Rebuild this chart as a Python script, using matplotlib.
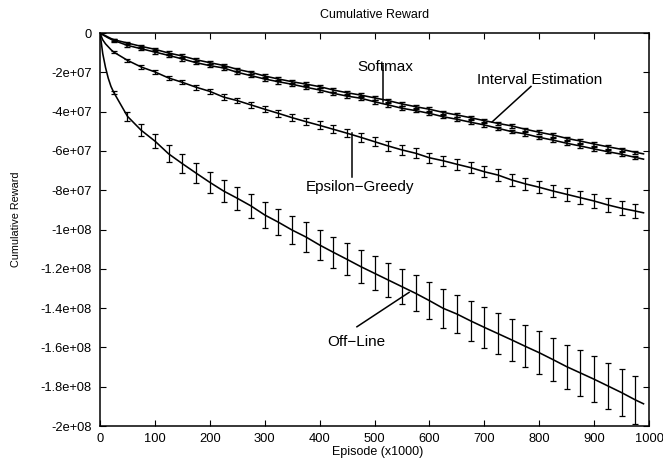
import matplotlib
matplotlib.use("Agg")
import matplotlib.pyplot as plt
import numpy as np

plt.rcParams['font.family'] = ['Liberation Sans', 'DejaVu Sans']

SCALE = 1e7  # values below are in units of 1e7

episodes = [0, 5, 10, 15, 20, 25, 50, 75, 100, 125, 150, 175, 200, 225, 250, 275, 300,
            325, 350, 375, 400, 425, 450, 475, 500, 525, 550, 575, 600, 625, 650,
            675, 700, 725, 750, 775, 800, 825, 850, 875, 900, 925, 950, 975, 990]

interval_estimation = [0, -0.07, -0.14, -0.21, -0.28, -0.34, -0.51, -0.68, -0.83, -1.02, -1.17,
                       -1.36, -1.51, -1.65, -1.85, -2.00, -2.19, -2.34, -2.48, -2.60, -2.73,
                       -2.90, -3.04, -3.16, -3.30, -3.44, -3.61, -3.75, -3.88, -4.04, -4.17,
                       -4.31, -4.46, -4.60, -4.73, -4.90, -5.05, -5.19, -5.36, -5.50, -5.65,
                       -5.79, -5.92, -6.07, -6.15]

softmax = [0, -0.09, -0.17, -0.25, -0.32, -0.38, -0.63, -0.80, -0.97, -1.14, -1.32,
           -1.51, -1.66, -1.78, -2.00, -2.17, -2.34, -2.48, -2.61, -2.76, -2.90,
           -3.07, -3.21, -3.32, -3.50, -3.66, -3.83, -3.95, -4.09, -4.26, -4.39,
           -4.54, -4.68, -4.85, -5.02, -5.14, -5.31, -5.45, -5.61, -5.75, -5.90,
           -6.04, -6.17, -6.33, -6.42]

epsilon_greedy = [0, -0.35, -0.55, -0.70, -0.85, -0.97, -1.39, -1.73, -1.98, -2.29, -2.51,
                  -2.76, -2.97, -3.26, -3.44, -3.66, -3.88, -4.09, -4.31, -4.51, -4.70,
                  -4.90, -5.10, -5.31, -5.53, -5.75, -5.95, -6.12, -6.35, -6.50, -6.68,
                  -6.85, -7.06, -7.23, -7.48, -7.68, -7.85, -8.04, -8.21, -8.38, -8.55,
                  -8.75, -8.92, -9.06, -9.15]

off_line = [0, -1.05, -1.75, -2.30, -2.72, -3.02, -4.24, -4.95, -5.50, -6.15, -6.65,
            -7.13, -7.60, -8.04, -8.41, -8.80, -9.26, -9.63, -10.03, -10.38, -10.79,
            -11.16, -11.52, -11.89, -12.23, -12.57, -12.91, -13.25, -13.62, -14.01, -14.30,
            -14.65, -14.98, -15.30, -15.62, -15.95, -16.27, -16.62, -16.98, -17.30, -17.62,
            -17.96, -18.30, -18.67, -18.87]

# error bars are drawn at episodes 25, 50, ..., 975
bar_episodes = [25, 50, 75, 100, 125, 150, 175, 200, 225, 250, 275, 300, 325, 350, 375,
                400, 425, 450, 475, 500, 525, 550, 575, 600, 625, 650, 675, 700, 725,
                750, 775, 800, 825, 850, 875, 900, 925, 950, 975]

err_interval = [0.06, 0.07, 0.07, 0.08, 0.08, 0.08, 0.08, 0.08, 0.08, 0.08, 0.08, 0.09, 0.09,
                0.09, 0.09, 0.09, 0.09, 0.09, 0.09, 0.09, 0.09, 0.09, 0.09, 0.09, 0.09, 0.09,
                0.09, 0.09, 0.09, 0.09, 0.09, 0.09, 0.09, 0.09, 0.09, 0.09, 0.09, 0.09, 0.09]
err_softmax = [0.06, 0.07, 0.07, 0.08, 0.08, 0.08, 0.08, 0.08, 0.08, 0.08, 0.08, 0.09, 0.09,
               0.09, 0.09, 0.09, 0.09, 0.09, 0.09, 0.09, 0.09, 0.09, 0.09, 0.09, 0.09, 0.09,
               0.09, 0.09, 0.09, 0.09, 0.09, 0.09, 0.09, 0.09, 0.09, 0.09, 0.09, 0.09, 0.09]
err_epsilon = [0.05, 0.07, 0.08, 0.09, 0.10, 0.11, 0.12, 0.13, 0.14, 0.14, 0.15, 0.16, 0.17,
               0.18, 0.19, 0.20, 0.21, 0.21, 0.22, 0.23, 0.24, 0.24, 0.25, 0.26, 0.26, 0.27,
               0.28, 0.28, 0.29, 0.30, 0.31, 0.31, 0.32, 0.33, 0.33, 0.34, 0.35, 0.35, 0.36]
err_off_line = [0.08, 0.23, 0.30, 0.36, 0.44, 0.48, 0.51, 0.55, 0.56, 0.59, 0.63, 0.64, 0.66,
                0.70, 0.74, 0.75, 0.79, 0.81, 0.83, 0.87, 0.89, 0.89, 0.91, 0.94, 0.98, 0.99,
                1.02, 1.03, 1.04, 1.06, 1.07, 1.10, 1.10, 1.12, 1.15, 1.16, 1.17, 1.20, 1.21]

y_ticks = [0, -2e7, -4e7, -6e7, -8e7, -1e8, -1.2e8, -1.4e8, -1.6e8, -1.8e8, -2e8]
y_tick_labels = ['0', '-2e+07', '-4e+07', '-6e+07', '-8e+07', '-1e+08', '-1.2e+08',
                 '-1.4e+08', '-1.6e+08', '-1.8e+08', '-2e+08']
x_ticks = [0, 100, 200, 300, 400, 500, 600, 700, 800, 900, 1000]
x_tick_labels = ['0', '100', '200', '300', '400', '500', '600', '700', '800', '900', '1000']

W, H = 663, 466
fig = plt.figure(figsize=(W / 100, H / 100), dpi=100)
ax = fig.add_axes([100 / W, 1 - 426 / H, 549 / W, 393 / H])

ep = np.array(episodes)
idx = [episodes.index(e) for e in bar_episodes]

series = [
    (interval_estimation, err_interval, 1.1, 2.3, 1.0),
    (softmax, err_softmax, 1.1, 2.3, 1.0),
    (epsilon_greedy, err_epsilon, 0.9, 2.0, 0.9),
    (off_line, err_off_line, 0.9, 2.2, 0.9),
]
for vals, err, elw, cap, capw in series:
    v = np.array(vals) * SCALE
    ax.plot(ep, v, color='black', lw=1.15, solid_joinstyle='round')
    ax.errorbar(np.array(bar_episodes), v[idx], yerr=np.array(err) * SCALE, fmt='none',
                ecolor='black', elinewidth=elw, capsize=cap, capthick=capw)

ax.set_xlim(0, 1000)
ax.set_ylim(-2e8, 0)
ax.set_xticks(x_ticks)
ax.set_xticklabels(x_tick_labels)
ax.set_yticks(y_ticks)
ax.set_yticklabels(y_tick_labels)
ax.tick_params(direction='in', top=True, right=True, length=4.5, width=0.8, labelsize=9.3)
ax.tick_params(axis='y', pad=6)
ax.tick_params(axis='x', pad=5)
for s in ax.spines.values():
    s.set_linewidth(1.1)

# annotations
lab_fs = 11
ax.text(520, -1.92e7, 'Softmax', ha='center', va='baseline', fontsize=lab_fs)
ax.plot([516, 516], [-1.65e7, -3.5e7], color='black', lw=1.1)
ax.text(801, -2.6e7, 'Interval Estimation', ha='center', va='baseline', fontsize=lab_fs)
ax.plot([785, 714], [-2.72e7, -4.53e7], color='black', lw=1.1)
ax.text(474, -8.02e7, 'Epsilon\u2212Greedy', ha='center', va='baseline', fontsize=lab_fs)
ax.plot([459, 459], [-5.1e7, -7.35e7], color='black', lw=1.1)
ax.text(466, -15.93e7, 'Off\u2212Line', ha='center', va='baseline', fontsize=lab_fs)
ax.plot([468, 563], [-14.95e7, -13.2e7], color='black', lw=1.1)

fig.text(374.5 / W, 1 - 15 / H, 'Cumulative Reward', ha='center', va='center', fontsize=9)
fig.text(378 / W, 1 - 452 / H, 'Episode (x1000)', ha='center', va='center', fontsize=9)
fig.text(16 / W, 1 - 219 / H, 'Cumulative Reward', ha='center', va='center',
         rotation=90, fontsize=7.8)

fig.savefig('out.png', dpi=100)
